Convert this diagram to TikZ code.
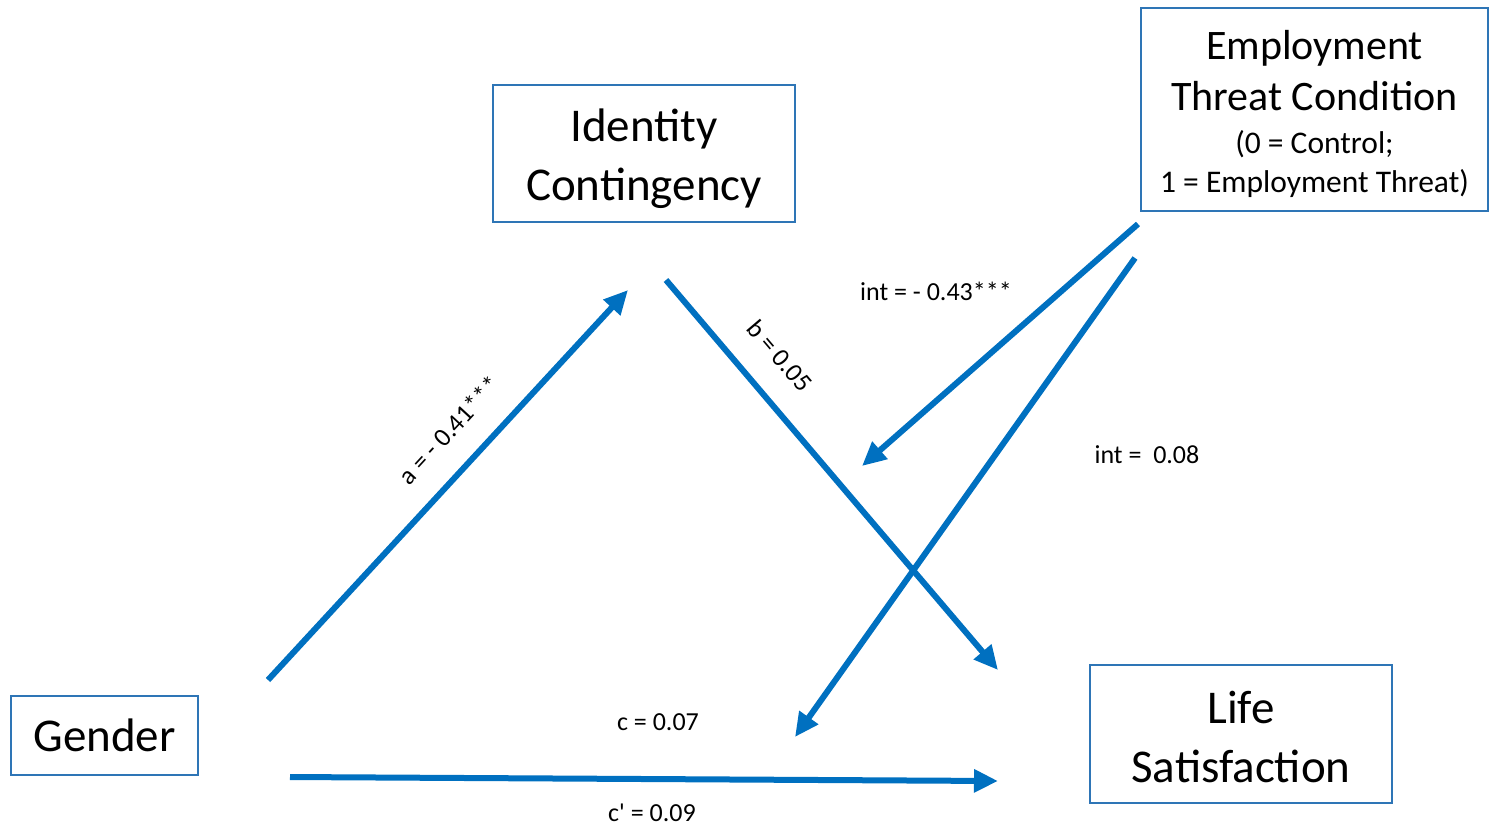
\documentclass[tikz,border=0pt]{standalone}
\usepackage{fontspec}
\setmainfont{Carlito}
\usetikzlibrary{arrows.meta}
\definecolor{pathblue}{HTML}{0070C0}
\definecolor{boxblue}{HTML}{2E75B6}
\newcommand{\subline}{\fontsize{15.75}{19.5}\selectfont}
\tikzstyle{box} = [rectangle, draw=boxblue, line width=1pt, align=center, text centered, inner sep=0pt, font=\fontsize{23.5}{29.5}\selectfont]
\tikzstyle{arrow} = [draw=pathblue, line width=3pt, -{Triangle[length=12pt,width=11pt]}]
\tikzstyle{coef} = [font=\fontsize{13}{15}\selectfont, inner sep=0pt]

\begin{document}
\begin{tikzpicture}[x=0.5pt, y=-0.5pt]
\useasboundingbox (0,0) rectangle (1490,827);

\node (ident) [box, minimum width=151pt, minimum height=68.5pt] at (644,153.5)
  {\rule{0pt}{21.5pt}Identity\\Contingency};
\node (threat) [box, minimum width=173.5pt, minimum height=101.5pt, font=\fontsize{21}{25.5}\selectfont] at (1314.5,109.5)
  {\rule{0pt}{19.5pt}Employment\\Threat Condition\\[-4pt]
   \subline (0 = Control;\\[-6pt] \subline 1 = Employment Threat)};
\node (gender) [box, minimum width=93.5pt, minimum height=39.5pt] at (104.5,735.5)
  {Gender};
\node (life) [box, minimum width=151pt, minimum height=69pt] at (1241,734)
  {\rule{0pt}{19pt}Life\\Satisfaction};

% free ends of the paths
\coordinate (gA) at (268,680);
\coordinate (idIn) at (628,290);
\coordinate (idOut) at (666,280);
\coordinate (lsB) at (998,670);
\coordinate (thA) at (1138,224);
\coordinate (bMid) at (862,466);
\coordinate (thB) at (1135,258);
\coordinate (cMid) at (795,737);
\coordinate (gC) at (290,777);
\coordinate (lsC) at (998,781);

\draw [arrow] (gA) -- (idIn);
\draw [arrow] (idOut) -- (lsB);
\draw [arrow] (thA) -- (bMid);
\draw [arrow] (thB) -- (cMid);
\draw [arrow] (gC) -- (lsC);

\node (apath) [coef, rotate=47.3] at (449,430) {a = - 0.41***};
\node (bpath) [coef, rotate=-49.6] at (780,356) {b = 0.05};
\node (intb) [coef] at (936,291) {int = - 0.43***};
\node (intc) [coef] at (1147,455) {int = \ 0.08};
\node (cpath) [coef] at (658,722) {c = 0.07};
\node (cprime) [coef] at (652,813) {c\textquotesingle{} = 0.09};

\end{tikzpicture}
\end{document}
